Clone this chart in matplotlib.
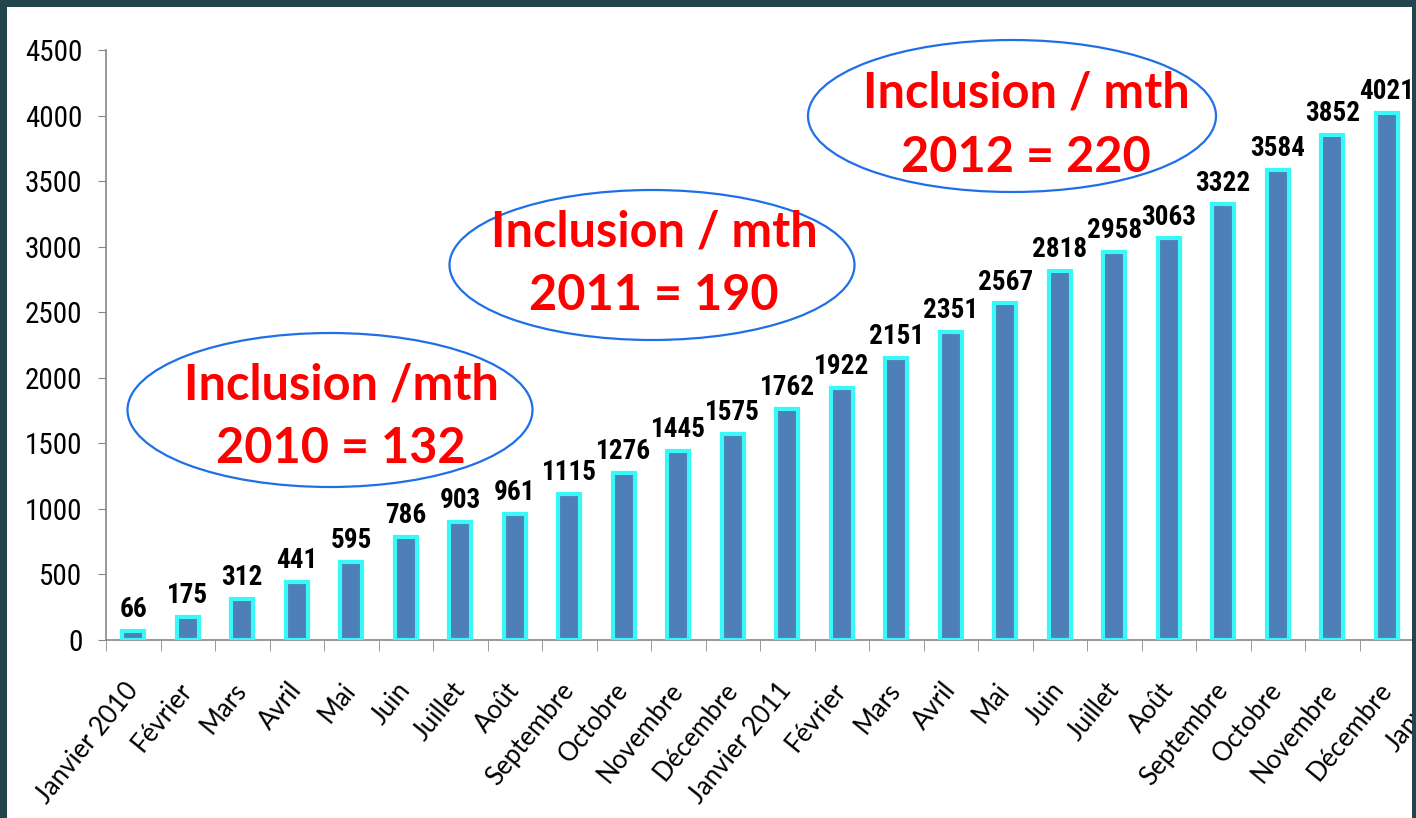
import matplotlib
matplotlib.use("Agg")
import matplotlib.pyplot as plt
from matplotlib import font_manager
from matplotlib.patches import Ellipse, Rectangle
import numpy as np

# Data
months = ["Janvier 2010", "Février", "Mars", "Avril", "Mai", "Juin", "Juillet",
          "Août", "Septembre", "Octobre", "Novembre", "Décembre",
          "Janvier 2011", "Février", "Mars", "Avril", "Mai", "Juin", "Juillet",
          "Août", "Septembre", "Octobre", "Novembre", "Décembre", "Janvier"]
inclusions = [66, 175, 312, 441, 595, 786, 903, 961, 1115, 1276, 1445, 1575,
              1762, 1922, 2151, 2351, 2567, 2818, 2958, 3063, 3322, 3584, 3852, 4021]
yticks = [0, 500, 1000, 1500, 2000, 2500, 3000, 3500, 4000, 4500]
notes = [("Inclusion /mth", "2010 = 132"),
         ("Inclusion / mth", "2011 = 190"),
         ("Inclusion / mth", "2012 = 220")]

W, H = 1416, 818
border = "#21464B"


# find a narrow font (the original looks like a condensed sans)
def narrow_font(bold=False):
    fonts = font_manager.fontManager.ttflist
    want = "bold" if bold else "normal"
    for name in ["Liberation Sans Narrow", "Arial Narrow", "Roboto Condensed",
                 "Open Sans Condensed", "DejaVu Sans Condensed", "Noto Sans Condensed"]:
        for f in fonts:
            if f.name == name and (f.weight == want or (bold and f.weight in (600, 700, "bold"))
                                   or (not bold and f.weight in (400, "normal", "regular"))) \
                    and f.style == "normal":
                return font_manager.FontProperties(fname=f.fname)
    for f in fonts:
        if f.stretch in ("condensed", "semi-condensed", "extra-condensed", 87.5, 75) \
                and f.style == "normal" and ("Bold" in f.fname) == bold:
            return font_manager.FontProperties(fname=f.fname)
    for f in fonts:
        if ("Condensed" in f.fname or "Narrow" in f.fname) and f.style == "normal" \
                and ("Bold" in f.fname) == bold and "Oblique" not in f.fname:
            return font_manager.FontProperties(fname=f.fname)
    return font_manager.FontProperties(family="Roboto", weight="bold" if bold else "normal")


reg = narrow_font(False)
bld = narrow_font(True)


def px(x, y):
    # pixel (from top-left) to figure fraction
    return x / W, 1 - y / H


fig = plt.figure(figsize=(W / 100, H / 100), dpi=100)
fig.patch.set_facecolor("white")

# axes: y=0 at 640px, 4500 at 50px, one category = 54.5px
left, bottom = px(106, 640)
n_cat = len(months)
ax = fig.add_axes([left, bottom, n_cat * 54.5 / W, 590 / H])
ax.set_facecolor("white")

x = np.arange(len(inclusions))
ax.bar(x, inclusions, width=0.40, color="#4F7FB8", edgecolor="#38F8F8",
       linewidth=3.0, zorder=3)
for xi, v in zip(x, inclusions):
    ax.annotate(str(v), (xi, v), xytext=(0, 10), textcoords="offset points",
                ha="center", va="baseline", fontproperties=bld, fontsize=19.5,
                color="black")

ax.set_xlim(-0.5, n_cat - 0.5)
ax.set_ylim(0, 4500)
ax.set_yticks(yticks)
ax.set_yticklabels([str(t) for t in yticks], fontproperties=reg, fontsize=21)
ax.tick_params(axis="y", length=6, color="#888888", pad=11)

ax.set_xticks(np.arange(n_cat))
ax.set_xticklabels(months, rotation=51, ha="right", va="center",
                   rotation_mode="anchor", family=["Lato", "DejaVu Sans"], fontsize=18.5)
ax.tick_params(axis="x", which="major", length=0, pad=33)
ax.set_xticks(np.arange(n_cat + 1) - 0.5, minor=True)
ax.tick_params(axis="x", which="minor", length=8, color="#888888")

for s in ["top", "right"]:
    ax.spines[s].set_visible(False)
for s in ["left", "bottom"]:
    ax.spines[s].set_color("#888888")
    ax.spines[s].set_linewidth(1.2)

# ellipses with notes
ellipses = [(330, 410, 405, 154), (652, 265, 405, 150), (1012, 116, 408, 152)]
text_pos = [(341, 400, 463), (654, 247, 310), (1026, 108, 172)]
for (cx, cy, ew, eh), (tx, y1, y2), (l1, l2) in zip(ellipses, text_pos, notes):
    ex, ey = px(cx, cy)
    fig.patches.append(Ellipse((ex, ey), ew / W, eh / H, transform=fig.transFigure,
                               facecolor="none", edgecolor="#1F6FE6", lw=1.6,
                               zorder=5))
    for yy, txt in [(y1, l1), (y2, l2)]:
        fx, fy = px(tx, yy)
        fig.text(fx, fy, txt, ha="center", va="baseline", color="#FF0000",
                 fontsize=35, fontweight="bold", family=["Lato", "DejaVu Sans"],
                 zorder=6)

# dark frame on top (left, top, right)
for rx, ry, rw, rh in [(0, 0, 7, H), (0, 0, W, 7), (1412, 0, W - 1412, H)]:
    fx, fy = px(rx, ry + rh)
    fig.patches.append(Rectangle((fx, fy), rw / W, rh / H, transform=fig.transFigure,
                                 facecolor=border, edgecolor="none", zorder=10))

fig.savefig("out.png", dpi=100)
